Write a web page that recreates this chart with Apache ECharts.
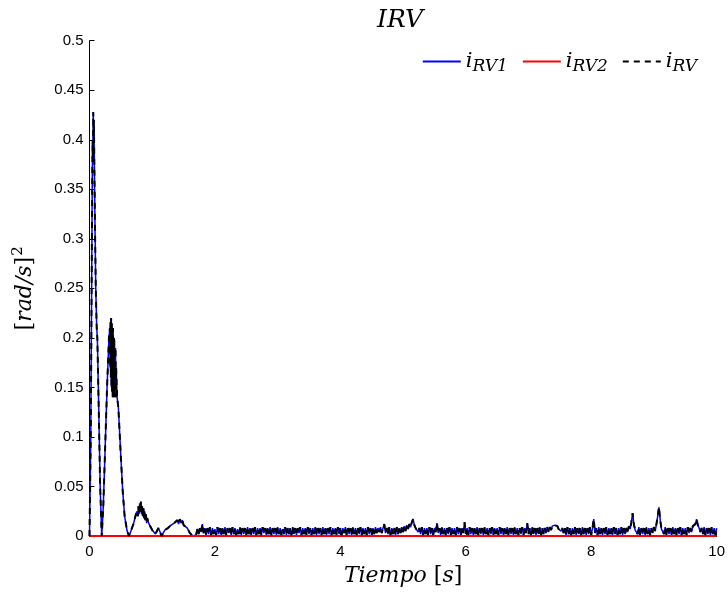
<!DOCTYPE html>
<html>
<head>
<meta charset="utf-8">
<script src="https://cdn.jsdelivr.net/npm/echarts@6/dist/echarts.min.js"></script>
<style>
html,body{margin:0;padding:0;background:#fff;}
#chart{width:728px;height:592px;}
</style>
</head>
<body>
<div id="chart"></div>
<script>
// ---- data ----
const xTicks = [0, 2, 4, 6, 8, 10];
const yTicks = [0, 0.05, 0.1, 0.15, 0.2, 0.25, 0.3, 0.35, 0.4, 0.45, 0.5];

// time samples [s]
const time = [
  0, 0.02, 0.035, 0.045, 0.05, 0.055, 0.06, 0.065, 0.07, 0.075, 0.08, 0.09, 0.10, 0.115, 0.125, 0.15, 0.17, 0.195, 0.22, 0.25, 0.28, 0.31, 0.325,
  0.33, 0.335, 0.34, 0.345, 0.35, 0.355, 0.36, 0.365, 0.37, 0.375, 0.38, 0.385, 0.39, 0.395, 0.40, 0.405, 0.41, 0.415, 0.42, 0.425,
  0.44, 0.46, 0.50, 0.53, 0.56, 0.60, 0.63, 0.66, 0.70, 0.74, 0.76,
  0.77, 0.78, 0.79, 0.80, 0.81, 0.82, 0.83, 0.84, 0.85, 0.86, 0.87, 0.88, 0.89, 0.90, 0.91, 0.92,
  0.95, 1.00, 1.05, 1.10, 1.15, 1.20, 1.25, 1.30, 1.35, 1.38, 1.40, 1.42, 1.44, 1.46, 1.48, 1.50, 1.52, 1.56, 1.60, 1.65,
  1.70, 1.72, 1.74, 1.76, 1.78, 1.80, 1.82, 1.84, 1.86, 1.88,
  1.90, 1.92, 1.94, 1.96, 1.98, 2.00, 2.02, 2.04, 2.06, 2.08,
  2.10, 2.12, 2.14, 2.16, 2.18, 2.20, 2.22, 2.24, 2.26, 2.28,
  2.30, 2.32, 2.34, 2.36, 2.38, 2.40, 2.42, 2.44, 2.46, 2.48,
  2.50, 2.52, 2.54, 2.56, 2.58, 2.60, 2.62, 2.64, 2.66, 2.68,
  2.70, 2.72, 2.74, 2.76, 2.78, 2.80, 2.82, 2.84, 2.86, 2.88,
  2.90, 2.92, 2.94, 2.96, 2.98, 3.00, 3.02, 3.04, 3.06, 3.08,
  3.10, 3.12, 3.14, 3.16, 3.18, 3.20, 3.22, 3.24, 3.26, 3.28,
  3.30, 3.32, 3.34, 3.36, 3.38, 3.40, 3.42, 3.44, 3.46, 3.48,
  3.50, 3.52, 3.54, 3.56, 3.58, 3.60, 3.62, 3.64, 3.66, 3.68,
  3.70, 3.72, 3.74, 3.76, 3.78, 3.80, 3.82, 3.84, 3.86, 3.88,
  3.90, 3.92, 3.94, 3.96, 3.98, 4.00, 4.02, 4.04, 4.06, 4.08,
  4.10, 4.12, 4.14, 4.16, 4.18, 4.20, 4.22, 4.24, 4.26, 4.28,
  4.30, 4.32, 4.34, 4.36, 4.38, 4.40, 4.42, 4.44, 4.46, 4.48,
  4.50, 4.52, 4.54, 4.56, 4.58, 4.60, 4.62, 4.64, 4.66, 4.68,
  4.70, 4.72, 4.74, 4.76, 4.78, 4.80, 4.82, 4.84, 4.86, 4.88,
  4.90, 4.92, 4.94, 4.96, 4.98, 5.00, 5.02, 5.04, 5.06, 5.08,
  5.10, 5.12, 5.14, 5.16, 5.18, 5.20, 5.22, 5.24, 5.26, 5.28,
  5.30, 5.32, 5.34, 5.36, 5.38, 5.40, 5.42, 5.44, 5.46, 5.48,
  5.50, 5.52, 5.54, 5.56, 5.58, 5.60, 5.62, 5.64, 5.66, 5.68,
  5.70, 5.72, 5.74, 5.76, 5.78, 5.80, 5.82, 5.84, 5.86, 5.88,
  5.90, 5.92, 5.94, 5.96, 5.98, 6.00, 6.02, 6.04, 6.06, 6.08,
  6.10, 6.12, 6.14, 6.16, 6.18, 6.20, 6.22, 6.24, 6.26, 6.28,
  6.30, 6.32, 6.34, 6.36, 6.38, 6.40, 6.42, 6.44, 6.46, 6.48,
  6.50, 6.52, 6.54, 6.56, 6.58, 6.60, 6.62, 6.64, 6.66, 6.68,
  6.70, 6.72, 6.74, 6.76, 6.78, 6.80, 6.82, 6.84, 6.86, 6.88,
  6.90, 6.92, 6.94, 6.96, 6.98, 7.00, 7.02, 7.04, 7.06, 7.08,
  7.10, 7.12, 7.14, 7.16, 7.18, 7.20, 7.22, 7.24, 7.26, 7.28,
  7.30, 7.32, 7.34, 7.36, 7.38, 7.40, 7.42, 7.44, 7.46, 7.48,
  7.50, 7.52, 7.54, 7.56, 7.58, 7.60, 7.62, 7.64, 7.66, 7.68,
  7.70, 7.72, 7.74, 7.76, 7.78, 7.80, 7.82, 7.84, 7.86, 7.88,
  7.90, 7.92, 7.94, 7.96, 7.98, 8.00, 8.02, 8.04, 8.06, 8.08,
  8.10, 8.12, 8.14, 8.16, 8.18, 8.20, 8.22, 8.24, 8.26, 8.28,
  8.30, 8.32, 8.34, 8.36, 8.38, 8.40, 8.42, 8.44, 8.46, 8.48,
  8.50, 8.52, 8.54, 8.56, 8.58, 8.60, 8.62, 8.64, 8.66, 8.68,
  8.70, 8.72, 8.74, 8.76, 8.78, 8.80, 8.82, 8.84, 8.86, 8.88,
  8.90, 8.92, 8.94, 8.96, 8.98, 9.00, 9.02, 9.04, 9.06, 9.08,
  9.10, 9.12, 9.14, 9.16, 9.18, 9.20, 9.22, 9.24, 9.26, 9.28,
  9.30, 9.32, 9.34, 9.36, 9.38, 9.40, 9.42, 9.44, 9.46, 9.48,
  9.50, 9.52, 9.54, 9.56, 9.58, 9.60, 9.62, 9.64, 9.66, 9.68,
  9.70, 9.72, 9.74, 9.76, 9.78, 9.80, 9.82, 9.84, 9.86, 9.88,
  9.90, 9.92, 9.94, 9.96, 9.98, 10.00
];

// i_RV1 [(rad/s)^2]
const iRV1 = [
  0, 0.10, 0.26, 0.37, 0.40, 0.38, 0.428, 0.40, 0.42, 0.39, 0.36, 0.30, 0.25, 0.21, 0.20, 0.12, 0.05, 0.0, 0.03, 0.09, 0.15, 0.20, 0.21,
  0.17, 0.216, 0.16, 0.22, 0.15, 0.215, 0.145, 0.21, 0.14, 0.21, 0.14, 0.20, 0.14, 0.20, 0.14, 0.19, 0.14, 0.19, 0.14, 0.17,
  0.14, 0.13, 0.08, 0.045, 0.02, 0.005, 0.0, 0.005, 0.012, 0.022, 0.025,
  0.02, 0.03, 0.022, 0.033, 0.024, 0.035, 0.022, 0.03, 0.02, 0.028, 0.018, 0.025, 0.016, 0.022, 0.013, 0.018,
  0.012, 0.006, 0.002, 0.008, 0.0, 0.006, 0.008, 0.011, 0.013, 0.012, 0.016, 0.012, 0.017, 0.013, 0.016, 0.011, 0.013, 0.008, 0.003, 0.0,
  0.001, 0.007, 0.002, 0.008, 0.004, 0.012, 0.003, 0.008, 0.001, 0.008,
  0.002, 0.009, 0.001, 0.008, 0.002, 0.007, 0.001, 0.009, 0.002, 0.008,
  0.001, 0.008, 0.002, 0.009, 0.001, 0.008, 0.003, 0.008, 0.001, 0.009,
  0.002, 0.008, 0.001, 0.007, 0.002, 0.009, 0.001, 0.008, 0.002, 0.008,
  0.001, 0.009, 0.002, 0.008, 0.001, 0.008, 0.002, 0.009, 0.001, 0.008,
  0.002, 0.008, 0.001, 0.009, 0.003, 0.008, 0.001, 0.008, 0.002, 0.009,
  0.001, 0.008, 0.002, 0.008, 0.001, 0.009, 0.002, 0.008, 0.001, 0.007,
  0.002, 0.009, 0.001, 0.008, 0.002, 0.008, 0.001, 0.009, 0.002, 0.008,
  0.001, 0.008, 0.003, 0.009, 0.001, 0.008, 0.002, 0.008, 0.001, 0.009,
  0.002, 0.008, 0.001, 0.008, 0.002, 0.009, 0.001, 0.008, 0.002, 0.008,
  0.001, 0.009, 0.002, 0.008, 0.001, 0.008, 0.002, 0.009, 0.001, 0.008,
  0.002, 0.008, 0.001, 0.009, 0.002, 0.008, 0.001, 0.008, 0.003, 0.009,
  0.001, 0.008, 0.002, 0.008, 0.001, 0.009, 0.002, 0.008, 0.001, 0.008,
  0.002, 0.009, 0.001, 0.008, 0.002, 0.008, 0.001, 0.009, 0.002, 0.008,
  0.001, 0.008, 0.002, 0.009, 0.003, 0.008, 0.004, 0.009, 0.003, 0.008,
  0.012, 0.003, 0.008, 0.002, 0.009, 0.001, 0.008, 0.002, 0.008, 0.001,
  0.009, 0.002, 0.008, 0.003, 0.009, 0.004, 0.010, 0.005, 0.011, 0.007,
  0.012, 0.009, 0.014, 0.017, 0.011, 0.008, 0.010, 0.004, 0.008, 0.002,
  0.009, 0.001, 0.008, 0.002, 0.008, 0.001, 0.009, 0.002, 0.008, 0.001,
  0.008, 0.004, 0.013, 0.003, 0.008, 0.001, 0.009, 0.002, 0.008, 0.001,
  0.008, 0.002, 0.009, 0.001, 0.008, 0.002, 0.008, 0.001, 0.009, 0.002,
  0.008, 0.001, 0.008, 0.003, 0.014, 0.002, 0.008, 0.001, 0.009, 0.002,
  0.008, 0.001, 0.008, 0.002, 0.009, 0.001, 0.008, 0.002, 0.008, 0.001,
  0.009, 0.002, 0.008, 0.001, 0.008, 0.002, 0.009, 0.001, 0.008, 0.002,
  0.008, 0.001, 0.009, 0.002, 0.008, 0.001, 0.008, 0.002, 0.009, 0.001,
  0.008, 0.002, 0.008, 0.001, 0.009, 0.002, 0.008, 0.001, 0.008, 0.002,
  0.009, 0.001, 0.008, 0.003, 0.013, 0.002, 0.008, 0.001, 0.009, 0.002,
  0.008, 0.001, 0.008, 0.002, 0.009, 0.001, 0.008, 0.002, 0.008, 0.003,
  0.009, 0.004, 0.009, 0.006, 0.010, 0.008, 0.011, 0.009, 0.010, 0.007,
  0.009, 0.005, 0.008, 0.003, 0.008, 0.001, 0.009, 0.002, 0.008, 0.001,
  0.008, 0.002, 0.009, 0.001, 0.008, 0.002, 0.008, 0.001, 0.009, 0.002,
  0.008, 0.001, 0.008, 0.002, 0.009, 0.001, 0.008, 0.017, 0.003, 0.008,
  0.001, 0.009, 0.002, 0.008, 0.001, 0.008, 0.002, 0.009, 0.001, 0.008,
  0.002, 0.008, 0.001, 0.009, 0.002, 0.008, 0.001, 0.008, 0.002, 0.009,
  0.001, 0.008, 0.002, 0.008, 0.004, 0.010, 0.007, 0.014, 0.023, 0.012,
  0.006, 0.008, 0.002, 0.009, 0.001, 0.008, 0.002, 0.008, 0.001, 0.009,
  0.002, 0.008, 0.001, 0.008, 0.003, 0.009, 0.005, 0.012, 0.020, 0.029,
  0.016, 0.007, 0.008, 0.002, 0.009, 0.001, 0.008, 0.002, 0.008, 0.001,
  0.009, 0.002, 0.008, 0.001, 0.008, 0.002, 0.009, 0.001, 0.008, 0.002,
  0.008, 0.001, 0.009, 0.003, 0.008, 0.004, 0.010, 0.008, 0.012, 0.017,
  0.011, 0.008, 0.004, 0.008, 0.002, 0.009, 0.001, 0.008, 0.002, 0.008,
  0.001, 0.009, 0.002, 0.008, 0.001, 0.008
];

// i_RV2 is flat at zero over the whole run
const timeRV2 = [0, 10];
const iRV2 = [0, 0];

// i_RV (total, dashed) coincides with i_RV1 in the picture since i_RV2 = 0
const iRV = iRV1.slice();

const names = ['iRV1', 'iRV2', 'iRV'];
const subs = { iRV1: 'RV1', iRV2: 'RV2', iRV: 'RV' };

const pair = (t, v) => t.map((x, i) => [x, v[i]]);

const serif = 'DejaVu Serif';
const sans = 'Liberation Sans';

const chart = echarts.init(document.getElementById('chart'), null, { renderer: 'canvas' });
chart.setOption({
  animation: false,
  backgroundColor: '#fff',
  title: {
    text: 'IRV',
    left: 395, top: 3, textAlign: 'center',
    textStyle: { fontFamily: serif, fontStyle: 'italic', fontWeight: 'normal', fontSize: 25, color: '#000' }
  },
  legend: {
    data: names,
    right: 26, top: 46,
    itemWidth: 38, itemHeight: 14, itemGap: 14,
    itemStyle: { opacity: 0 },
    formatter: n => '{i|i}{s|' + subs[n] + '}',
    textStyle: {
      color: '#000',
      rich: {
        i: { fontFamily: serif, fontStyle: 'italic', fontSize: 21, color: '#000' },
        s: { fontFamily: serif, fontStyle: 'italic', fontSize: 17, color: '#000', padding: [10, 0, 0, 0] }
      }
    }
  },
  grid: { left: 89.5, right: 11, top: 40.7, bottom: 56, containLabel: false },
  xAxis: {
    type: 'value', min: xTicks[0], max: xTicks[xTicks.length - 1], interval: 2,
    name: '{i|Tiempo}{b| [}{i|s}{b|]}',
    nameLocation: 'middle', nameGap: 29,
    nameTextStyle: {
      rich: {
        i: { fontFamily: serif, fontStyle: 'italic', fontSize: 22, color: '#000' },
        b: { fontFamily: serif, fontSize: 22, color: '#000' }
      }
    },
    axisLine: { show: true, onZero: false, lineStyle: { color: '#000', width: 1 } },
    axisTick: { show: true, inside: true, length: 5, lineStyle: { color: '#000' } },
    axisLabel: { color: '#000', fontFamily: sans, fontSize: 15, margin: 8 },
    splitLine: { show: false }
  },
  yAxis: {
    type: 'value', min: yTicks[0], max: yTicks[yTicks.length - 1], interval: 0.05,
    name: '{b|[}{i|rad/s}{b|]}{p|2}',
    nameLocation: 'middle', nameGap: 50, nameRotate: 90,
    nameTextStyle: {
      rich: {
        i: { fontFamily: serif, fontStyle: 'italic', fontSize: 22, color: '#000' },
        b: { fontFamily: serif, fontSize: 22, color: '#000' },
        p: { fontFamily: serif, fontSize: 15, color: '#000', padding: [0, 0, 14, 1] }
      }
    },
    axisLine: { show: true, lineStyle: { color: '#000', width: 1 } },
    axisTick: { show: true, inside: true, length: 5, lineStyle: { color: '#000' } },
    axisLabel: { color: '#000', fontFamily: sans, fontSize: 15, margin: 6,
      formatter: v => String(+v.toFixed(2)) },
    splitLine: { show: false }
  },
  series: [
    {
      name: 'iRV1', type: 'line', data: pair(time, iRV1), showSymbol: false, symbol: 'none',
      lineStyle: { color: '#0000ff', width: 1.5 }, itemStyle: { color: '#0000ff' }, z: 2
    },
    {
      name: 'iRV2', type: 'line', data: pair(timeRV2, iRV2), showSymbol: false, symbol: 'none',
      lineStyle: { color: '#ff0000', width: 2 }, itemStyle: { color: '#ff0000' }, z: 3
    },
    {
      name: 'iRV', type: 'line', data: pair(time, iRV), showSymbol: false, symbol: 'none',
      lineStyle: { color: '#000', width: 2, type: [6, 5] }, itemStyle: { color: '#000' }, z: 4
    }
  ]
});
</script>
</body>
</html>
